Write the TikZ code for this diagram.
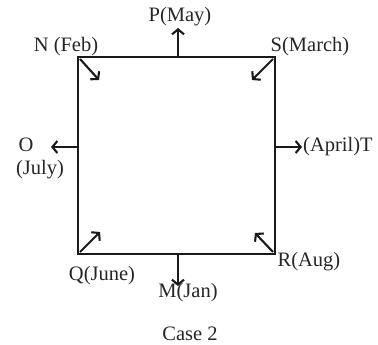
\documentclass[tikz,border=0pt]{standalone}
\usepackage{fontspec}
\setmainfont{Liberation Serif}
\usetikzlibrary{arrows.meta, positioning}

\begin{document}
\begin{tikzpicture}[x=1pt, y=-1pt, >={Straight Barb[length=5pt, width=12pt]}]
    \tikzstyle{lbl} = [font=\fontsize{20.5}{22}\selectfont, text=black!85, inner sep=0pt]
    \tikzstyle{edge} = [line width=2.1pt, black!90]
    \useasboundingbox (0,0) rectangle (378,345);

    % Corners of the square
    \coordinate (nw) at (78,57);
    \coordinate (ne) at (275,57);
    \coordinate (sw) at (78,254);
    \coordinate (se) at (275,254);
    \draw[edge] (nw) rectangle (se);

    % Mid points and arrow ends
    \coordinate (topmid) at (178,57);
    \coordinate (botmid) at (178,254);
    \coordinate (leftmid) at (78,147);
    \coordinate (rightmid) at (275,147);
    \coordinate (ptip) at (178,28);
    \coordinate (mtip) at (178,286);
    \coordinate (otip) at (51,147);
    \coordinate (ttip) at (302,147);

    % Labels
    \node[lbl] (p) at (180,17) {P(May)};
    \node[lbl] (n) at (66,47) {N (Feb)};
    \node[lbl] (s) at (310,47) {S(March)};
    \node[lbl] (o) at (26,145) {O};
    \node[lbl, below=8pt of o.south, xshift=14pt] (july) {(July)};
    \node[lbl, anchor=west] (t) at ([xshift=1pt]ttip) {(April)T};
    \node[lbl] (q) at (102,276) {Q(June)};
    \node[lbl] (m) at (188,293) {M(Jan)};
    \node[lbl] (r) at (309,262) {R(Aug)};
    \node[lbl] (case) at (190,334) {Case 2};

    % Outward arrows
    \draw[edge, ->] (topmid) -- (ptip);
    \draw[edge, ->] (botmid) -- (mtip);
    \draw[edge, ->] (leftmid) -- (otip);
    \draw[edge, ->] (rightmid) -- (ttip);

    % Corner arrows (pointing inward)
    \draw[edge, ->] ([shift={(2,2)}]nw) -- ([shift={(21,23)}]nw);
    \draw[edge, ->] ([shift={(-2,2)}]ne) -- ([shift={(-23,23)}]ne);
    \draw[edge, ->] ([shift={(2,-2)}]sw) -- ([shift={(22,-22)}]sw);
    \draw[edge, ->] ([shift={(-2,-2)}]se) -- ([shift={(-20,-21)}]se);
\end{tikzpicture}
\end{document}
